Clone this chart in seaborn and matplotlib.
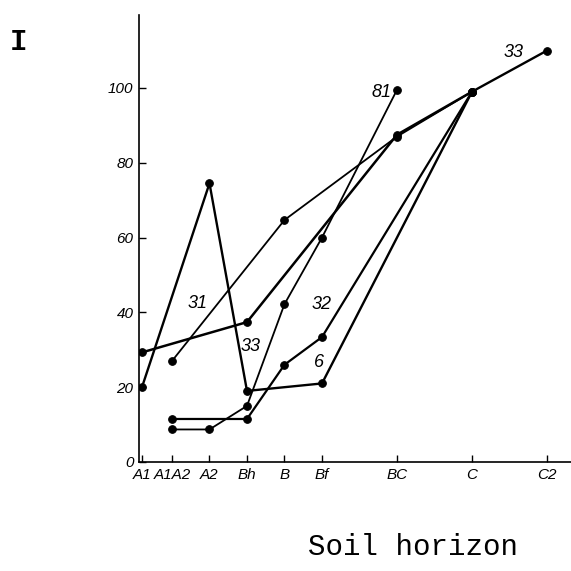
import matplotlib
matplotlib.use("Agg")
import matplotlib.pyplot as plt
import seaborn as sns

# Soil horizons along the x axis (uneven spacing, as in the original figure)
horizons = ["A1", "A1A2", "A2", "Bh", "B", "Bf", "BC", "C", "C2"]
horizon_x = [0, 0.8, 1.8, 2.8, 3.8, 4.8, 6.8, 8.8, 10.8]

# profiles
p33_horizons = ["A1", "A2", "Bh", "Bf", "C", "C2"]
p33_values = [20, 74.5, 19, 21, 99, 110]

p31_horizons = ["A1A2", "B", "BC", "C"]
p31_values = [27, 64.7, 87, 99]

pA_horizons = ["A1", "Bh", "BC", "C"]
pA_values = [29.3, 37.4, 87.5, 99]

p81_horizons = ["A1A2", "A2", "Bh", "B", "Bf", "BC"]
p81_values = [8.7, 8.7, 15, 42.2, 60, 99.5]

p32_horizons = ["A1A2", "Bh", "B", "Bf", "C"]
p32_values = [11.5, 11.5, 26, 33.4, 99]

labels = ["31", "33", "32", "6", "81", "33"]
label_x = [1.47, 2.9, 4.8, 4.72, 6.4, 9.9]
label_y = [42.5, 30.8, 42, 26.7, 98.7, 109.4]

sns.set_style("ticks")
plt.rcParams["font.family"] = ["Liberation Sans", "DejaVu Sans"]
plt.rcParams["text.color"] = "black"

xmap = dict(zip(horizons, horizon_x))

fig = plt.figure(figsize=(5.71, 5.71), dpi=100)
ax = fig.add_axes([0.2434, 0.1909, 0.7566, 0.7828])

series = [
    (p33_horizons, p33_values, 1.7),
    (p31_horizons, p31_values, 1.3),
    (pA_horizons, pA_values, 1.8),
    (p81_horizons, p81_values, 1.3),
    (p32_horizons, p32_values, 1.6),
]
for hz, vals, lw in series:
    sns.lineplot(x=[xmap[h] for h in hz], y=vals, ax=ax, color="black",
                 linewidth=lw, marker="o", markersize=5.5,
                 markeredgecolor="black", sort=False, legend=False)

for t, x, y in zip(labels, label_x, label_y):
    ax.text(x, y, t, fontsize=13, style="italic", ha="center", va="center",
            color="black")

ax.set_xlim(-0.08, 11.44)
ax.set_ylim(0, 119.5)
ax.set_xticks(horizon_x)
ax.set_xticklabels(horizons, style="italic", fontsize=11)
ax.set_yticks([0, 20, 40, 60, 80, 100])
ax.set_yticklabels(["0", "20", "40", "60", "80", "100"], style="italic", fontsize=11)
ax.tick_params(direction="in", length=5, width=1, colors="black", pad=4)
for s in ["top", "right"]:
    ax.spines[s].set_visible(False)
for s in ["left", "bottom"]:
    ax.spines[s].set_linewidth(1.2)
    ax.spines[s].set_color("black")
ax.set_xlabel("")
ax.set_ylabel("")

fig.text(413 / 571, 1 - 547 / 571, "Soil horizon", family="Liberation Mono",
         fontsize=21, ha="center", va="center", color="black")
fig.text(18 / 571, 1 - 42 / 571, "I", family="Liberation Mono",
         fontsize=21, fontweight="bold", ha="center", va="center", color="black")

fig.savefig("out.png", dpi=100)
